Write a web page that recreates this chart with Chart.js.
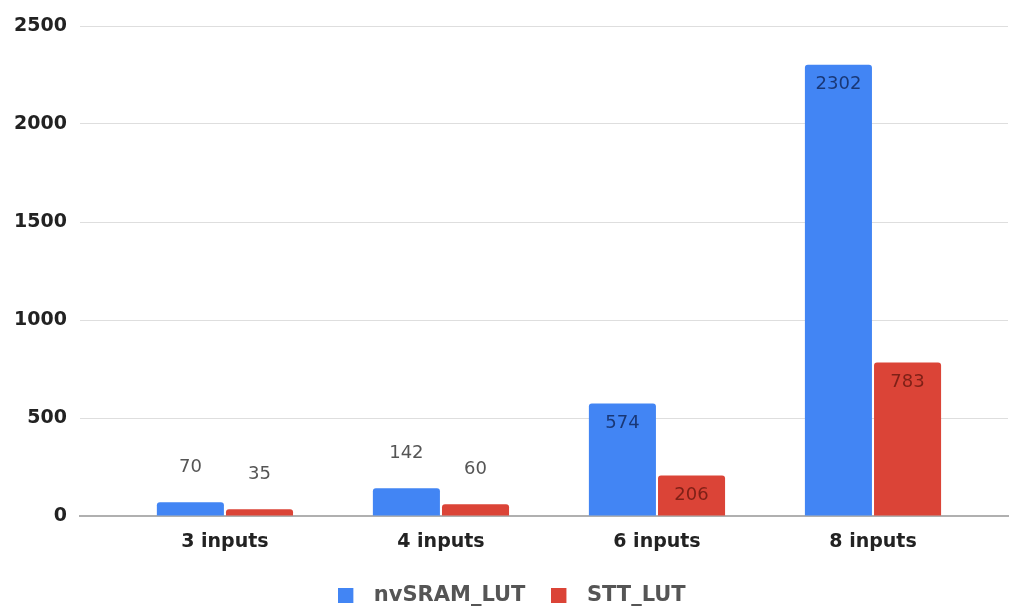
<!DOCTYPE html>
<html>
<head>
<meta charset="utf-8">
<script src="https://cdn.jsdelivr.net/npm/chart.js@4/dist/chart.umd.min.js"></script>
<style>
  html, body { margin: 0; padding: 0; background: #ffffff; }
  #wrap { width: 1010px; height: 606px; position: relative; }
</style>
</head>
<body>
<div id="wrap"><canvas id="c" width="1010" height="606"></canvas></div>
<script>
// Category labels along the x axis
const categories = ['3 inputs', '4 inputs', '6 inputs', '8 inputs'];
// Series values
const nvsramValues = [70, 142, 574, 2302];
const sttValues = [35, 60, 206, 783];
// Series names
const seriesNames = ['nvSRAM_LUT', 'STT_LUT'];
// Y axis tick values
const yTicks = [0, 500, 1000, 1500, 2000, 2500];

const BLUE = '#4285f4';
const RED = '#db4437';
const FONT = '"DejaVu Sans", Roboto, sans-serif';

// Legend swatch: a 15px square on the left of a wider transparent strip,
// which leaves a wider gap before the legend text
function makeSwatch(color) {
  const cv = document.createElement('canvas');
  cv.width = 25;
  cv.height = 15;
  const g = cv.getContext('2d');
  g.fillStyle = color;
  g.fillRect(0, 0, 15, 15);
  return cv;
}
const swatches = [makeSwatch(BLUE), makeSwatch(RED)];

// Writes each bar's value above short bars, inside near the top of taller bars
const valueLabels = {
  id: 'valueLabels',
  afterDatasetsDraw(chart) {
    const ctx = chart.ctx;
    ctx.save();
    ctx.font = '18px ' + FONT;
    ctx.textAlign = 'center';
    ctx.textBaseline = 'middle';
    chart.data.datasets.forEach((ds, di) => {
      const meta = chart.getDatasetMeta(di);
      meta.data.forEach((bar, i) => {
        const v = ds.data[i].y;
        const h = bar.base - bar.y;
        if (h > 35) {
          ctx.fillStyle = di === 0 ? 'rgba(15,35,85,0.8)' : 'rgba(95,20,12,0.75)';
          ctx.fillText(String(v), bar.x, bar.y + 20);
        } else {
          ctx.fillStyle = '#555555';
          ctx.fillText(String(v), bar.x, bar.y - 35);
        }
      });
    });
    ctx.restore();
  }
};

// Nudges the legend row a little to the right of the canvas centre
const legendShift = {
  id: 'legendShift',
  afterLayout(chart) {
    if (chart.legend) {
      chart.legend.left += 8;
      chart.legend.right += 8;
    }
  }
};

const toPoints = arr => arr.map((v, i) => ({ x: i, y: v }));

new Chart(document.getElementById('c'), {
  type: 'bar',
  data: {
    datasets: [
      {
        label: seriesNames[0],
        data: toPoints(nvsramValues),
        backgroundColor: BLUE,
        borderRadius: { topLeft: 3, topRight: 3 },
        borderSkipped: 'bottom',
        categoryPercentage: 0.64,
        barPercentage: 0.97
      },
      {
        label: seriesNames[1],
        data: toPoints(sttValues),
        backgroundColor: RED,
        borderRadius: { topLeft: 3, topRight: 3 },
        borderSkipped: 'bottom',
        categoryPercentage: 0.64,
        barPercentage: 0.97
      }
    ]
  },
  options: {
    responsive: false,
    animation: false,
    layout: { padding: { top: 26, right: 2, left: 0, bottom: -10 } },
    scales: {
      x: {
        type: 'linear',
        offset: false,
        min: -0.671,
        max: 3.625,
        grid: { display: false, drawTicks: false },
        border: { display: true, color: '#b0b0b0', width: 2 },
        afterBuildTicks(scale) {
          scale.ticks = categories.map((_, i) => ({ value: i }));
        },
        afterFit(scale) { scale.height = 43; },
        ticks: {
          autoSkip: false,
          maxRotation: 0,
          padding: 15,
          color: '#222222',
          font: { family: FONT, size: 19, weight: 'bold' },
          callback: v => categories[v] ?? ''
        }
      },
      y: {
        min: 0,
        max: 2500,
        afterBuildTicks(scale) {
          scale.ticks = yTicks.map(v => ({ value: v }));
        },
        afterFit(scale) { scale.width = 80; },
        grid: { color: '#dedede', lineWidth: 1, drawTicks: false },
        border: { display: false },
        ticks: {
          padding: 13,
          color: '#222222',
          font: { family: FONT, size: 19, weight: 'bold' },
          callback: v => String(v)
        }
      }
    },
    plugins: {
      legend: {
        position: 'bottom',
        labels: {
          usePointStyle: true,
          pointStyleWidth: 25,
          boxHeight: 15,
          padding: 26,
          color: '#555555',
          font: { family: FONT, size: 21, weight: 'bold' },
          generateLabels(chart) {
            const items = Chart.defaults.plugins.legend.labels.generateLabels(chart);
            items.forEach((it, i) => { it.pointStyle = swatches[i]; });
            return items;
          }
        }
      },
      tooltip: { enabled: false }
    }
  },
  plugins: [valueLabels, legendShift]
});
</script>
</body>
</html>
